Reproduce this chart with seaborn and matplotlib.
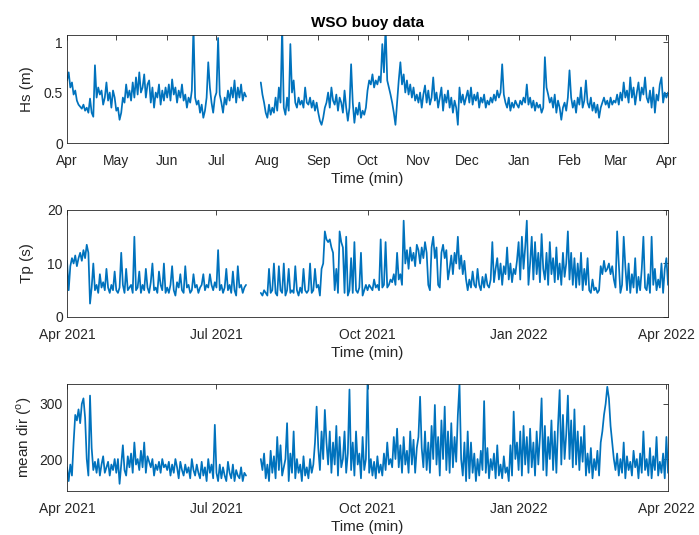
import numpy as np
import pandas as pd
import matplotlib
matplotlib.use("Agg")
import matplotlib.pyplot as plt
import matplotlib.dates as mdates
import seaborn as sns

# Daily buoy record, 1 Apr 2021 - 2 Apr 2022 (NaN = instrument outage)
nan = np.nan
dates = pd.date_range("2021-04-01", "2022-04-02", freq="D")

# Significant wave height (m)
hs = [
    # Apr 2021
    0.62, 0.70, 0.55, 0.60, 0.48, 0.52, 0.42, 0.38, 0.36, 0.34, 0.38, 0.32, 0.35, 0.30, 0.44,
    0.30, 0.26, 0.77, 0.45, 0.55, 0.48, 0.52, 0.38, 0.45, 0.60, 0.42, 0.50, 0.35, 0.52, 0.45,
    # May
    0.32, 0.35, 0.23, 0.30, 0.45, 0.40, 0.58, 0.45, 0.52, 0.42, 0.60, 0.45, 0.65, 0.48, 0.70, 0.50,
    0.55, 0.68, 0.45, 0.58, 0.62, 0.40, 0.55, 0.35, 0.50, 0.45, 0.58, 0.38, 0.52, 0.42, 0.55,
    # Jun
    0.45, 0.58, 0.42, 0.63, 0.48, 0.55, 0.40, 0.52, 0.45, 0.58, 0.42, 0.48, 0.35, 0.45, 0.40,
    0.52, 1.15, 0.45, 0.38, 0.42, 0.30, 0.38, 0.25, 0.32, 0.45, 0.80, 0.55, 0.40, 0.30, 0.45,
    # Jul
    0.50, 1.04, 0.48, 0.40, 0.30, 0.45, 0.38, 0.52, 0.42, 0.55, 0.45, 0.62, 0.40, 0.55, 0.45, 0.58,
    0.42, 0.50, 0.46, nan, nan, nan, nan, nan, nan, nan, nan, 0.60, 0.48, 0.40, 0.30,
    # Aug
    0.25, 0.38, 0.28, 0.35, 0.30, 0.45, 0.32, 0.55, 0.40, 1.15, 0.35, 0.28, 0.45, 0.32, 0.98, 0.50,
    0.62, 0.40, 0.35, 0.45, 0.38, 0.42, 0.35, 0.55, 0.40, 0.38, 0.45, 0.35, 0.42, 0.32, 0.40,
    # Sep
    0.30, 0.22, 0.18, 0.25, 0.35, 0.40, 0.50, 0.35, 0.55, 0.42, 0.38, 0.48, 0.32, 0.45, 0.40,
    0.30, 0.52, 0.35, 0.22, 0.35, 0.78, 0.40, 0.20, 0.35, 0.28, 0.40, 0.25, 0.32, 0.28, 0.35,
    # Oct
    0.52, 0.62, 0.58, 0.68, 0.55, 0.62, 0.58, 0.66, 0.60, 0.98, 0.70, 1.15, 0.62, 0.55, 0.48, 0.40,
    0.30, 0.18, 0.40, 0.62, 0.80, 0.58, 0.68, 0.50, 0.62, 0.48, 0.58, 0.45, 0.55, 0.42, 0.48,
    # Nov
    0.40, 0.50, 0.35, 0.48, 0.57, 0.40, 0.52, 0.38, 0.45, 0.65, 0.42, 0.50, 0.35, 0.45, 0.55,
    0.32, 0.48, 0.40, 0.52, 0.35, 0.45, 0.30, 0.42, 0.35, 0.18, 0.55, 0.40, 0.48, 0.38, 0.45,
    # Dec
    0.52, 0.40, 0.55, 0.38, 0.48, 0.42, 0.50, 0.35, 0.45, 0.40, 0.48, 0.35, 0.42, 0.38, 0.45, 0.40,
    0.48, 0.42, 0.52, 0.45, 0.50, 0.78, 0.48, 0.40, 0.35, 0.45, 0.32, 0.40, 0.35, 0.42, 0.38,
    # Jan 2022
    0.35, 0.42, 0.38, 0.45, 0.40, 0.58, 0.38, 0.45, 0.35, 0.42, 0.32, 0.40, 0.35, 0.38, 0.30, 0.35,
    0.85, 0.55, 0.48, 0.40, 0.45, 0.35, 0.48, 0.30, 0.42, 0.35, 0.23, 0.35, 0.40, 0.32, 0.45,
    # Feb
    0.72, 0.45, 0.35, 0.42, 0.30, 0.45, 0.38, 0.55, 0.35, 0.42, 0.62, 0.40, 0.35, 0.45,
    0.32, 0.40, 0.30, 0.38, 0.25, 0.35, 0.40, 0.45, 0.38, 0.42, 0.35, 0.45, 0.38, 0.42,
    # Mar
    0.40, 0.48, 0.38, 0.50, 0.42, 0.60, 0.45, 0.52, 0.40, 0.65, 0.45, 0.55, 0.38, 0.50, 0.60, 0.42,
    0.55, 0.48, 0.65, 0.45, 0.40, 0.52, 0.35, 0.55, 0.30, 0.48, 0.42, 0.58, 0.65, 0.40, 0.50,
    # Apr
    0.45, 0.50,
]

# Peak wave period (s)
tp = [
    # Apr 2021
    10.5, 5.0, 9.5, 11.0, 10.0, 11.5, 9.5, 11.0, 12.0, 10.5, 12.5, 11.0, 13.5, 12.0, 2.5,
    5.5, 10.0, 5.0, 6.0, 4.5, 8.0, 5.5, 6.5, 5.0, 9.0, 5.5, 4.5, 6.0, 5.0, 8.5,
    # May
    5.0, 4.5, 5.5, 12.0, 6.0, 4.5, 9.0, 5.0, 5.5, 6.0, 4.5, 15.0, 5.0, 5.5, 8.5, 4.5,
    6.0, 5.0, 9.0, 5.5, 4.5, 6.5, 10.0, 5.0, 5.5, 4.5, 8.5, 6.0, 5.0, 10.0, 4.5,
    # Jun
    5.5, 4.5, 6.0, 9.5, 5.0, 4.0, 6.5, 5.5, 8.0, 5.0, 4.5, 9.5, 5.5, 6.0, 4.5,
    5.0, 8.0, 5.5, 6.0, 4.5, 5.5, 6.0, 8.0, 5.0, 6.0, 5.5, 8.0, 6.0, 5.0, 6.5,
    # Jul
    5.5, 12.5, 5.0, 6.0, 4.5, 5.5, 9.0, 5.0, 6.0, 4.5, 8.5, 5.0, 4.0, 9.5, 5.5, 6.0,
    4.5, 5.5, 6.0, nan, nan, nan, nan, nan, nan, nan, nan, 4.5, 4.0, 5.0, 4.5,
    # Aug
    4.0, 9.0, 4.5, 5.0, 10.0, 4.5, 4.0, 9.5, 5.0, 4.5, 10.0, 4.0, 5.0, 9.0, 4.5, 5.0,
    4.5, 9.5, 5.0, 4.0, 5.5, 4.5, 9.0, 5.0, 4.5, 5.0, 10.0, 4.5, 5.0, 9.0, 5.5,
    # Sep
    6.0, 4.0, 9.0, 10.0, 16.0, 14.5, 14.0, 14.5, 13.0, 12.0, 5.0, 9.0, 4.5, 16.0, 14.0,
    13.0, 4.5, 15.0, 4.0, 5.0, 11.0, 4.5, 14.0, 5.0, 4.5, 5.5, 12.0, 4.0, 5.0, 6.0,
    # Oct
    5.0, 6.0, 5.5, 5.0, 7.0, 5.5, 6.0, 5.0, 14.5, 5.5, 6.0, 14.0, 5.5, 6.0, 7.0, 6.5,
    8.0, 6.0, 12.0, 7.0, 8.0, 6.0, 18.0, 10.0, 12.5, 9.0, 13.0, 10.5, 12.0, 9.5, 13.5,
    # Nov
    12.5, 10.0, 13.0, 11.0, 14.0, 12.0, 6.0, 5.0, 13.0, 15.0, 11.0, 13.0, 6.0, 5.5, 12.0,
    13.5, 11.0, 12.5, 7.0, 9.0, 11.5, 8.0, 12.0, 10.0, 15.0, 9.0, 11.5, 8.0, 10.5, 7.0,
    # Dec
    5.0, 7.0, 5.5, 8.5, 6.0, 5.5, 9.0, 6.0, 5.0, 7.5, 5.5, 8.0, 6.0, 5.5, 7.0, 14.0,
    6.5, 9.0, 11.0, 7.0, 10.0, 6.0, 9.5, 8.0, 13.0, 7.0, 10.0, 6.5, 9.0, 8.0, 10.5,
    # Jan 2022
    14.0, 7.0, 15.0, 9.0, 13.0, 18.0, 6.0, 10.0, 15.0, 7.0, 14.0, 8.0, 12.0, 6.5, 15.5, 9.0,
    7.0, 12.0, 6.0, 14.0, 8.0, 11.0, 6.5, 13.0, 7.0, 10.0, 6.0, 12.0, 7.5, 10.0, 16.0,
    # Feb
    7.0, 12.0, 6.0, 11.0, 5.5, 10.0, 6.0, 12.0, 5.0, 9.0, 6.0, 11.0, 5.0, 4.5,
    7.0, 5.0, 5.5, 4.5, 5.0, 9.5, 8.0, 10.5, 8.5, 9.0, 10.0, 8.0, 9.5, 7.0,
    # Mar
    5.5, 16.0, 10.0, 4.5, 6.0, 15.0, 9.5, 5.0, 10.0, 4.5, 8.0, 5.5, 11.0, 4.5, 7.5, 5.0,
    9.0, 15.0, 5.5, 5.0, 8.0, 4.5, 15.0, 6.0, 9.0, 5.0, 7.0, 5.5, 10.0, 4.5, 9.0,
    # Apr
    11.0, 6.0,
]

# Mean wave direction (degrees)
mdir = [
    # Apr 2021
    185, 160, 190, 170, 230, 280, 270, 290, 265, 300, 310, 275, 200, 170, 315,
    220, 180, 195, 175, 200, 170, 190, 205, 175, 185, 195, 170, 190, 180, 200,
    # May
    175, 200, 155, 190, 225, 180, 170, 205, 185, 210, 175, 230, 190, 200, 180, 215,
    185, 230, 175, 205, 195, 185, 200, 170, 190, 180, 195, 175, 200, 185, 190,
    # Jun
    180, 195, 170, 190, 175, 200, 185, 165, 195, 180, 170, 190, 175, 185, 165,
    200, 180, 170, 190, 175, 165, 195, 170, 185, 160, 200, 175, 190, 165, 262,
    # Jul
    175, 160, 190, 165, 185, 170, 160, 195, 175, 165, 190, 160, 180, 170, 165, 185,
    160, 175, 170, nan, nan, nan, nan, nan, nan, nan, nan, 200, 180, 210, 165,
    # Aug
    190, 160, 215, 175, 205, 165, 240, 180, 225, 170, 185, 200, 265, 160, 210, 175,
    250, 165, 200, 175, 190, 160, 205, 170, 185, 165, 200, 175, 190, 230, 295,
    # Sep
    220, 180, 250, 200, 289, 230, 190, 250, 175, 230, 190, 260, 170, 240, 185,
    200, 250, 175, 210, 326, 180, 230, 170, 250, 190, 210, 165, 240, 180, 200,
    # Oct
    336, 175, 200, 170, 195, 165, 205, 175, 190, 170, 210, 180, 230, 190, 200, 185,
    240, 200, 255, 185, 225, 175, 240, 190, 215, 175, 250, 190, 235, 175, 220,
    # Nov
    240, 313, 220, 185, 250, 180, 230, 175, 260, 200, 298, 190, 240, 170, 270,
    200, 295, 180, 250, 175, 265, 185, 240, 195, 280, 336, 200, 170, 230, 160,
    # Dec
    250, 165, 230, 175, 210, 160, 200, 170, 215, 180, 305, 175, 220, 165, 200, 180,
    210, 165, 225, 170, 190, 165, 205, 175, 185, 160, 225, 170, 286, 200, 230,
    # Jan 2022
    180, 250, 170, 260, 190, 240, 175, 255, 185, 230, 170, 250, 190, 240, 310, 180,
    260, 170, 240, 200, 270, 180, 250, 175, 260, 325, 190, 280, 200, 245, 315,
    # Feb
    200, 270, 185, 290, 190, 250, 180, 240, 195, 260, 170, 210, 175, 220,
    165, 200, 180, 215, 170, 230, 250, 280, 300, 331, 310, 260, 230, 200,
    # Mar
    180, 210, 170, 200, 175, 230, 165, 205, 180, 195, 170, 215, 185, 200, 165, 210,
    175, 250, 180, 200, 170, 220, 165, 205, 180, 240, 170, 195, 175, 210, 165,
    # Apr
    240, 175,
]

df = pd.DataFrame({"time": dates, "hs": hs, "tp": tp, "mdir": mdir})

sns.set_theme(style="white")
plt.rcParams["font.family"] = ["Liberation Sans", "DejaVu Sans"]
plt.rcParams["mathtext.fontset"] = "custom"
plt.rcParams["mathtext.rm"] = "Liberation Sans"

INK = "#262626"
LINE = "#0072BD"

fig = plt.figure(figsize=(6.99, 5.35), dpi=100)
left, width = 0.0959, 0.8598
ax1 = fig.add_axes([left, 0.7327, width, 0.2019])
ax2 = fig.add_axes([left, 0.4075, width, 0.2000])
ax3 = fig.add_axes([left, 0.0822, width, 0.2000])


def draw(ax, col):
    # split the record at the outage so the line breaks there
    d = df[["time", col]].copy()
    d["segment"] = d[col].isna().cumsum()
    d = d.dropna()
    sns.lineplot(data=d, x="time", y=col, units="segment", estimator=None,
                 color=LINE, linewidth=1.25, ax=ax)


def style(ax):
    ax.tick_params(direction="in", top=True, right=True, length=3.5, width=0.6,
                   colors=INK, labelsize=10)
    ax.tick_params(axis="x", pad=8)
    ax.tick_params(axis="y", pad=3)
    for sp in ax.spines.values():
        sp.set_color(INK)
        sp.set_linewidth(0.6)
    ax.set_xlim(dates[0], dates[-1])
    ax.set_xlabel("Time (min)", fontsize=11, color=INK, labelpad=3)


draw(ax1, "hs")
style(ax1)
ax1.set_ylim(0, 1.07)
ax1.set_yticks([0, 0.5, 1])
ax1.set_yticklabels(["0", "0.5", "1"])
ax1.xaxis.set_major_locator(mdates.MonthLocator())
ax1.xaxis.set_major_formatter(mdates.DateFormatter("%b"))
ax1.set_ylabel("Hs (m)", fontsize=11, color=INK)
ax1.set_title("WSO buoy data", fontsize=11, fontweight="bold", color="black", pad=6)

draw(ax2, "tp")
style(ax2)
ax2.set_ylim(0, 20)
ax2.set_yticks([0, 10, 20])
ax2.xaxis.set_major_locator(mdates.MonthLocator(bymonth=[1, 4, 7, 10]))
ax2.xaxis.set_major_formatter(mdates.DateFormatter("%b %Y"))
ax2.set_ylabel("Tp (s)", fontsize=11, color=INK)

draw(ax3, "mdir")
style(ax3)
ax3.set_ylim(142, 336)
ax3.set_yticks([200, 300])
ax3.xaxis.set_major_locator(mdates.MonthLocator(bymonth=[1, 4, 7, 10]))
ax3.xaxis.set_major_formatter(mdates.DateFormatter("%b %Y"))
ax3.set_ylabel(r"mean dir ($^{\mathrm{o}}$)", fontsize=11, color=INK)

for ax in (ax1, ax2, ax3):
    ax.yaxis.set_label_coords(-0.055, 0.5)

fig.savefig("out.png", dpi=100)
